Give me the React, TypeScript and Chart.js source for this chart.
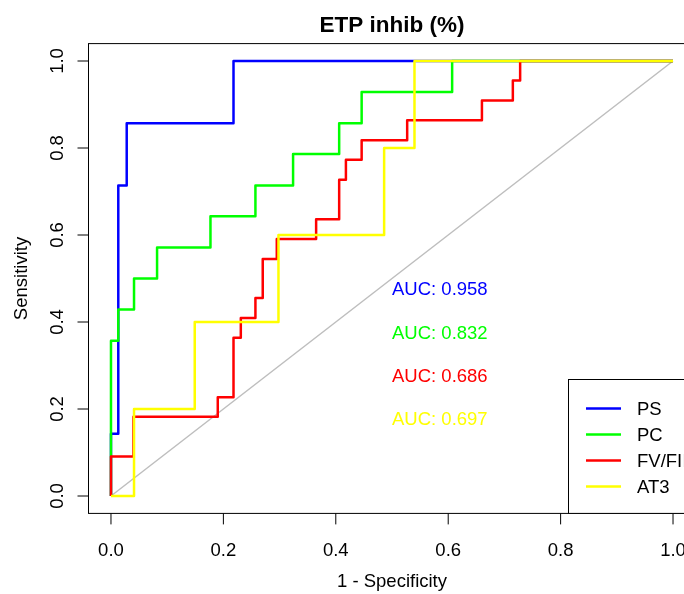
import React, { useEffect, useRef } from "react";
import { Chart, registerables } from "chart.js";

Chart.register(...registerables);

// ---- data ----
const seriesNames = ["PS", "PC", "FV/FII", "AT3"];
const seriesColors = ["#0000FF", "#00FF00", "#FF0000", "#FFFF00"];
const aucLabels = ["AUC: 0.958", "AUC: 0.832", "AUC: 0.686", "AUC: 0.697"];
const aucTextX = 0.5;
const aucTextY = [0.475, 0.376, 0.277, 0.177];

// ROC step corners (1 - specificity, sensitivity)
const psFpr = [0, 0, 0.013, 0.028, 0.218, 1];
const psTpr = [0, 0.143, 0.714, 0.857, 1, 1];

const pcFpr = [0, 0, 0.013, 0.041, 0.082, 0.177, 0.257, 0.324, 0.406, 0.446, 0.607, 1];
const pcTpr = [0, 0.357, 0.429, 0.5, 0.571, 0.643, 0.714, 0.786, 0.857, 0.929, 1, 1];

const fvFpr = [0, 0, 0.04, 0.19, 0.218, 0.231, 0.257, 0.27, 0.295, 0.365, 0.406, 0.418, 0.446, 0.527, 0.66, 0.715, 0.728, 1];
const fvTpr = [0, 0.091, 0.182, 0.227, 0.364, 0.409, 0.455, 0.545, 0.591, 0.636, 0.727, 0.773, 0.818, 0.864, 0.909, 0.955, 1, 1];

const at3Fpr = [0, 0.041, 0.149, 0.298, 0.486, 0.54, 1];
const at3Tpr = [0, 0.2, 0.4, 0.6, 0.8, 1, 1];

const diagFpr = [0, 1];
const diagTpr = [0, 1];

const tickValues = [0, 0.2, 0.4, 0.6, 0.8, 1.0];
const tickLabels = ["0.0", "0.2", "0.4", "0.6", "0.8", "1.0"];

const chartTitle = "ETP inhib (%)";
const xTitle = "1 - Specificity";
const yTitle = "Sensitivity";

const FONT = '"Liberation Sans", Arial, sans-serif';

function toPoints(xs: number[], ys: number[]) {
  return xs.map((v, i) => ({ x: v, y: ys[i] }));
}

const rStylePlugin = {
  id: "rStyle",
  afterDatasetsDraw(chart: any) {
    const { ctx, chartArea: a, scales } = chart;
    const xs = scales.x;
    const ys = scales.y;
    ctx.save();
    // plot box
    ctx.strokeStyle = "#000";
    ctx.lineWidth = 1;
    ctx.strokeRect(a.left, a.top, a.right - a.left, a.bottom - a.top);

    // ticks
    ctx.beginPath();
    tickValues.forEach((v) => {
      const px = xs.getPixelForValue(v);
      ctx.moveTo(px, a.bottom);
      ctx.lineTo(px, a.bottom + 11);
      const py = ys.getPixelForValue(v);
      ctx.moveTo(a.left, py);
      ctx.lineTo(a.left - 11, py);
    });
    ctx.stroke();

    // tick labels
    ctx.fillStyle = "#000";
    ctx.font = `18.5px ${FONT}`;
    ctx.textAlign = "center";
    ctx.textBaseline = "alphabetic";
    tickValues.forEach((v, i) => {
      ctx.fillText(tickLabels[i], xs.getPixelForValue(v), a.bottom + 42.5);
    });
    tickValues.forEach((v, i) => {
      ctx.save();
      ctx.translate(a.left - 25.5, ys.getPixelForValue(v));
      ctx.rotate(-Math.PI / 2);
      ctx.fillText(tickLabels[i], 0, 0);
      ctx.restore();
    });

    // axis titles
    const cx = (a.left + a.right) / 2;
    const cy = (a.top + a.bottom) / 2;
    ctx.fillText(xTitle, cx, a.bottom + 74);
    ctx.save();
    ctx.translate(27, cy);
    ctx.rotate(-Math.PI / 2);
    ctx.fillText(yTitle, 0, 0);
    ctx.restore();

    // main title
    ctx.font = `bold 22.5px ${FONT}`;
    ctx.fillText(chartTitle, cx, 31.5);

    // AUC texts
    ctx.font = `18.5px ${FONT}`;
    ctx.textAlign = "left";
    ctx.textBaseline = "middle";
    aucLabels.forEach((t, i) => {
      ctx.fillStyle = seriesColors[i];
      ctx.fillText(t, xs.getPixelForValue(aucTextX), ys.getPixelForValue(aucTextY[i]) + 1);
    });

    // legend (bottom right)
    const lx = 568.5;
    const ly = 379.5;
    ctx.fillStyle = "#fff";
    ctx.fillRect(lx, ly, a.right - lx, a.bottom - ly);
    ctx.strokeStyle = "#000";
    ctx.lineWidth = 1;
    ctx.strokeRect(lx, ly, a.right - lx, a.bottom - ly);
    const rows = [408.5, 434.5, 460.5, 486.5];
    seriesNames.forEach((n, i) => {
      ctx.strokeStyle = seriesColors[i];
      ctx.lineWidth = 2.5;
      ctx.beginPath();
      ctx.moveTo(586, rows[i]);
      ctx.lineTo(621, rows[i]);
      ctx.stroke();
      ctx.fillStyle = "#000";
      ctx.textAlign = "left";
      ctx.textBaseline = "middle";
      ctx.fillText(n, 637, rows[i] + 1);
    });
    ctx.restore();
  },
};

export default function App() {
  const canvasRef = useRef<HTMLCanvasElement | null>(null);

  useEffect(() => {
    if (!canvasRef.current) return;
    const series = [
      { name: seriesNames[0], fpr: psFpr, tpr: psTpr, color: seriesColors[0], order: 3 },
      { name: seriesNames[1], fpr: pcFpr, tpr: pcTpr, color: seriesColors[1], order: 2 },
      { name: seriesNames[2], fpr: fvFpr, tpr: fvTpr, color: seriesColors[2], order: 1 },
      { name: seriesNames[3], fpr: at3Fpr, tpr: at3Tpr, color: seriesColors[3], order: 0 },
    ];
    const datasets: any[] = series.map((s) => ({
      label: s.name,
      data: toPoints(s.fpr, s.tpr),
      borderColor: s.color,
      backgroundColor: s.color,
      borderWidth: 2.5,
      pointRadius: 0,
      showLine: true,
      stepped: "before",
      fill: false,
      order: s.order,
      borderJoinStyle: "round",
    }));
    datasets.push({
      label: "diag",
      data: toPoints(diagFpr, diagTpr),
      borderColor: "#BEBEBE",
      borderWidth: 1.5,
      pointRadius: 0,
      showLine: true,
      fill: false,
      order: 10,
    });

    const chart = new Chart(canvasRef.current, {
      type: "scatter",
      data: { datasets },
      options: {
        animation: false,
        responsive: false,
        maintainAspectRatio: false,
        devicePixelRatio: 1,
        layout: { padding: { left: 88.5, right: 24.5, top: 43.6, bottom: 80.6 } },
        scales: {
          x: { type: "linear", min: -0.04, max: 1.04, display: false },
          y: { type: "linear", min: -0.04, max: 1.04, display: false },
        },
        plugins: {
          legend: { display: false },
          title: { display: false },
          tooltip: { enabled: false },
        },
        events: [],
      },
      plugins: [rStylePlugin],
    } as any);
    return () => chart.destroy();
  }, []);

  return (
    <div
      style={{
        position: "fixed",
        left: 0,
        top: 0,
        width: 684,
        height: 594,
        overflow: "hidden",
        background: "#fff",
      }}
    >
      <canvas ref={canvasRef} width={720} height={594} style={{ display: "block", width: 720, height: 594 }} />
    </div>
  );
}
